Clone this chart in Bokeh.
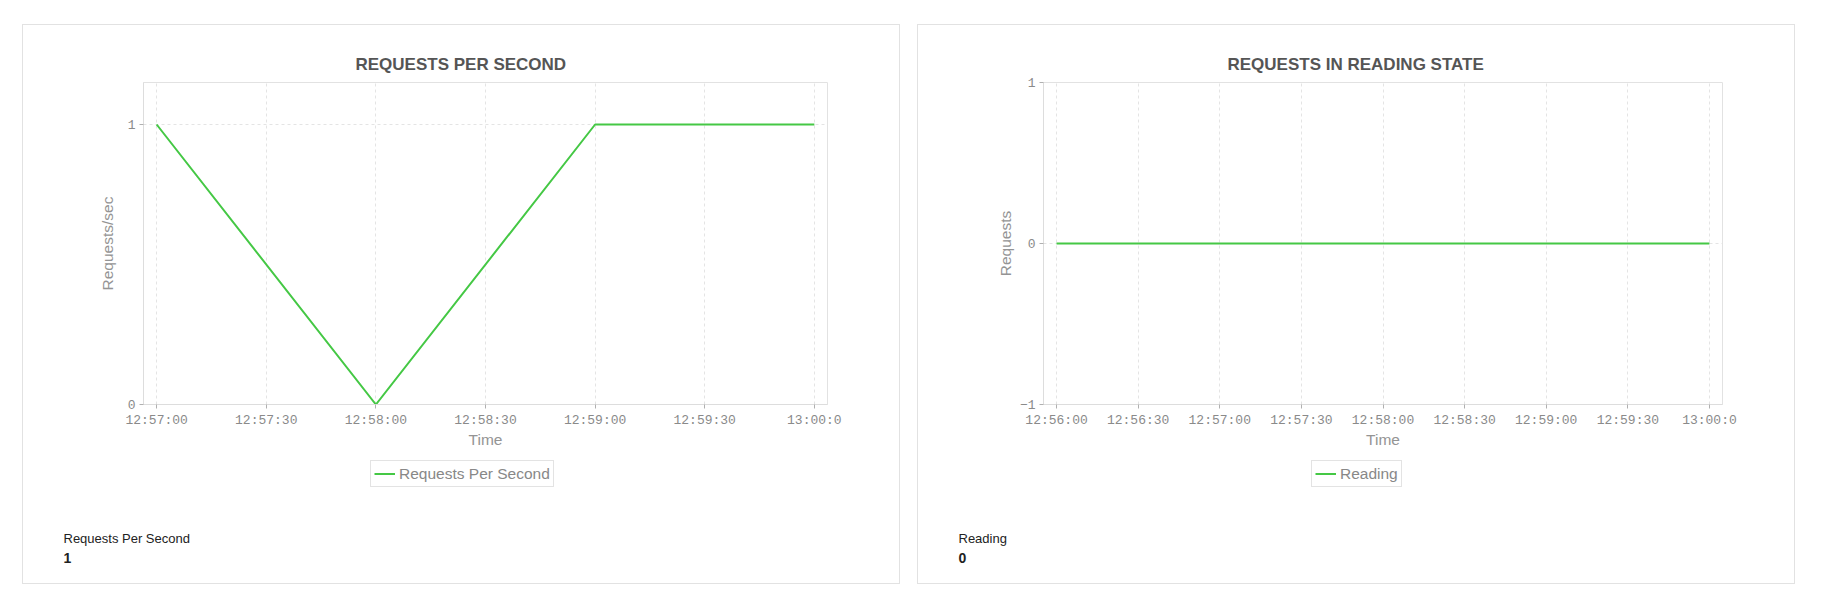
from bokeh.plotting import figure
from bokeh.models import Range1d, FixedTicker, Legend, LegendItem, Label, Spacer
from bokeh.layouts import row, column
from bokeh.embed import file_html
from bokeh.resources import INLINE

# ---- data ----
rps_times = ["12:57:00", "12:58:00", "12:59:00", "13:00:00"]
rps_values = [1, 0, 1, 1]
rps_ticks = ["12:57:00", "12:57:30", "12:58:00", "12:58:30", "12:59:00", "12:59:30", "13:00:00"]
rps_tick_labels = ["12:57:00", "12:57:30", "12:58:00", "12:58:30", "12:59:00", "12:59:30", "13:00:0"]
rps_yticks = [0, 1]

reading_times = ["12:56:00", "12:57:00", "12:58:00", "12:59:00", "13:00:00"]
reading_values = [0, 0, 0, 0, 0]
reading_ticks = ["12:56:00", "12:56:30", "12:57:00", "12:57:30", "12:58:00",
                 "12:58:30", "12:59:00", "12:59:30", "13:00:00"]
reading_tick_labels = ["12:56:00", "12:56:30", "12:57:00", "12:57:30", "12:58:00",
                       "12:58:30", "12:59:00", "12:59:30", "13:00:0"]
reading_yticks = [-1, 0, 1]

GREEN = "#45c845"
GREY_TXT = "#8a8a8a"
W = 876          # inner width of one panel
CHART_H = 431    # title + plot + x axis
FOOT_H = 127     # legend + current value
RIGHT = 72


def secs(t):
    h, m, s = t.split(":")
    return int(h) * 3600 + int(m) * 60 + int(s)


def make_panel(title, ylabel, series_name, times, values, ticks, tick_labels,
               yticks, ymax, left, title_x, ylabel_standoff, legend_x):
    xs = [secs(t) for t in times]
    span = xs[-1] - xs[0]
    pad = 0.02 * span
    p = figure(width=W, height=CHART_H, output_backend="svg", toolbar_location=None,
               x_range=Range1d(xs[0] - pad, xs[-1] + pad),
               y_range=Range1d(min(yticks), ymax),
               min_border_left=left, min_border_right=RIGHT,
               min_border_top=57, min_border_bottom=52)
    p.frame_align = False
    p.background_fill_color = "white"
    p.border_fill_color = "white"
    p.outline_line_color = "#e2e2e2"

    # title sits centred on the whole panel, not on the frame
    p.title.text = title
    p.title.align = "left"
    p.title.offset = title_x
    p.title.standoff = 17
    p.title.text_font = "Liberation Sans"
    p.title.text_font_size = "17px"
    p.title.text_font_style = "bold"
    p.title.text_color = "#555555"

    p.xaxis.ticker = FixedTicker(ticks=[secs(t) for t in ticks])
    p.xaxis.major_label_overrides = {secs(t): lab for t, lab in zip(ticks, tick_labels)}
    p.yaxis.ticker = FixedTicker(ticks=yticks)
    p.xaxis.axis_label = "Time"
    p.yaxis.axis_label = ylabel
    for ax in (p.xaxis, p.yaxis):
        ax.major_label_text_font = "Liberation Mono"
        ax.major_label_text_font_size = "13px"
        ax.major_label_text_color = GREY_TXT
        ax.axis_label_text_font = "Liberation Sans"
        ax.axis_label_text_font_size = "15.5px"
        ax.axis_label_text_font_style = "normal"
        ax.axis_label_text_color = "#949494"
        ax.axis_line_color = "#dddddd"
        ax.major_tick_line_color = "#b0b0b0"
        ax.major_tick_out = 4
        ax.major_tick_in = 0
        ax.minor_tick_line_color = None
        ax.major_label_standoff = 4
    p.xaxis.axis_label_standoff = 0
    p.yaxis.axis_label_standoff = ylabel_standoff

    for g in (p.xgrid, p.ygrid):
        g.grid_line_color = "#e4e4e4"
        g.grid_line_dash = "3 3"

    p.line(xs, values, color=GREEN, line_width=2)

    # footer: legend and the current value
    f = figure(width=W, height=FOOT_H, output_backend="svg", toolbar_location=None,
               x_range=Range1d(0, 1), y_range=Range1d(0, 1),
               x_axis_location=None, y_axis_location=None,
               min_border=0, min_border_left=0, min_border_right=0,
               min_border_top=0, min_border_bottom=0)
    f.frame_align = False
    f.outline_line_color = None
    f.background_fill_color = "white"
    f.border_fill_color = "white"
    f.xgrid.visible = False
    f.ygrid.visible = False
    # legend swatch only, it has no points of its own
    proxy = f.line([float("nan")], [float("nan")], color=GREEN, line_width=2)

    legend = Legend(items=[LegendItem(label=series_name, renderers=[proxy])],
                    location=(legend_x, 96))
    legend.label_text_font = "Liberation Sans"
    legend.label_text_font_size = "15.5px"
    legend.label_text_color = "#888888"
    legend.border_line_color = "#c8c8c8"
    legend.padding = 3
    legend.margin = 0
    legend.spacing = 0
    legend.glyph_width = 21
    legend.glyph_height = 19
    legend.label_height = 19
    legend.label_standoff = 4
    f.add_layout(legend)

    f.add_layout(Label(x=40, y=45, x_units="screen", y_units="screen",
                       text=series_name, text_align="left", text_baseline="middle",
                       text_font="Liberation Sans", text_font_size="13px",
                       text_color="#222222"))
    f.add_layout(Label(x=40, y=26, x_units="screen", y_units="screen",
                       text=str(values[-1]), text_align="left", text_baseline="middle",
                       text_font="Liberation Sans", text_font_size="14px",
                       text_font_style="bold", text_color="#222222"))

    return column(p, f, styles={"border": "1px solid #e2e2e2"})


panel1 = make_panel("REQUESTS PER SECOND", "Requests/sec", "Requests Per Second",
                    rps_times, rps_values, rps_ticks, rps_tick_labels,
                    rps_yticks, 1.15, 120, 212, 9, 347)
panel2 = make_panel("REQUESTS IN READING STATE", "Requests", "Reading",
                    reading_times, reading_values, reading_ticks, reading_tick_labels,
                    reading_yticks, 1, 125, 184, 3, 393)

layout = column(Spacer(height=24),
                row(Spacer(width=22), panel1, Spacer(width=17), panel2))
open("out.html", "w").write(file_html(layout, INLINE))
